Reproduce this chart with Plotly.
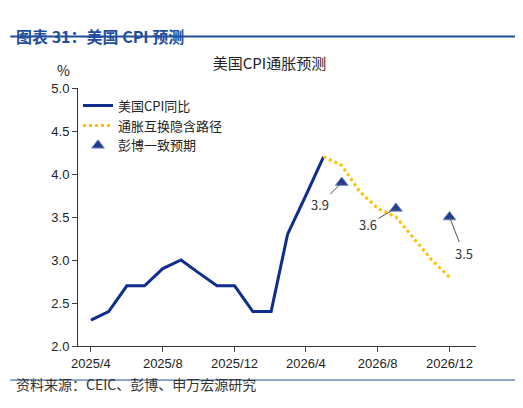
import plotly.graph_objects as go

months = ["2025-04", "2025-05", "2025-06", "2025-07", "2025-08", "2025-09", "2025-10",
          "2025-11", "2025-12", "2026-01", "2026-02", "2026-03", "2026-04", "2026-05"]
cpi = [2.3, 2.4, 2.7, 2.7, 2.9, 3.0, 2.85, 2.7, 2.7, 2.4, 2.4, 3.3, 3.75, 4.2]

path_months = ["2026-05", "2026-06", "2026-07", "2026-08", "2026-09", "2026-10", "2026-11", "2026-12"]
path_vals = [4.2, 4.1, 3.8, 3.6, 3.5, 3.25, 3.0, 2.8]

bbg_months = ["2026-06", "2026-09", "2026-12"]
bbg_vals = [3.9, 3.6, 3.5]
bbg_labels = ["3.9", "3.6", "3.5"]

tick_vals = ["2025-04", "2025-08", "2025-12", "2026-04", "2026-08", "2026-12"]
tick_text = ["2025/4", "2025/8", "2025/12", "2026/4", "2026/8", "2026/12"]

blue = "#0F2D8C"
fig = go.Figure()
fig.add_trace(go.Scatter(x=months, y=cpi, mode="lines", name="美国CPI同比",
                         line=dict(color=blue, width=3)))
fig.add_trace(go.Scatter(x=path_months, y=path_vals, mode="lines", name="通胀互换隐含路径",
                         line=dict(color="#FFC000", width=3, dash="dot")))
fig.add_trace(go.Scatter(x=bbg_months, y=bbg_vals, mode="markers", name="彭博一致预期",
                         marker=dict(symbol="triangle-up", size=11, color="#1F3C8C",
                                     line=dict(color="#6F86C0", width=1))))

offsets = [(-22, 22), (-28, 16), (14, 36)]
for m, v, t, (ax, ay) in zip(bbg_months, bbg_vals, bbg_labels, offsets):
    fig.add_annotation(x=m, y=v, text=t, showarrow=True, arrowhead=0, arrowwidth=1,
                       arrowcolor="#555", ax=ax, ay=ay, font=dict(size=13, color="#333"))

fig.update_layout(
    width=523, height=408, plot_bgcolor="white", paper_bgcolor="white",
    font=dict(family="Noto Sans CJK SC", color="#222", size=13),
    margin=dict(l=70, r=55, t=80, b=70),
    title=dict(text="美国CPI通胀预测", x=0.5, xanchor="center", y=0.877, font=dict(size=15)),
    legend=dict(orientation="h", x=0.0, y=0.99, yanchor="top", traceorder="normal",
                font=dict(size=13), bgcolor="rgba(255,255,255,0)", entrywidth=205),
    showlegend=True,
)
fig.update_xaxes(tickvals=tick_vals, ticktext=tick_text, range=["2025-03-10", "2027-01-15"],
                 showgrid=False, showline=True, linecolor="#333", ticks="outside",
                 tickfont=dict(size=13, family="Liberation Sans"))
fig.update_yaxes(range=[2.0, 5.0], dtick=0.5, tickformat=".1f", showgrid=False,
                 showline=True, linecolor="#333", ticks="outside",
                 tickfont=dict(size=13, family="Liberation Sans"))

fig.add_annotation(xref="paper", yref="paper", x=-0.058, y=1.116, text="%", showarrow=False,
                   font=dict(size=14))
fig.add_annotation(xref="paper", yref="paper", x=-0.16, y=1.256, xanchor="left",
                   text="<b>图表 31：美国 CPI 预测</b>", showarrow=False,
                   font=dict(size=16, color="#1F4E9C"))
fig.add_shape(type="line", xref="paper", yref="paper", x0=-0.17, x1=1.13, y0=1.2, y1=1.2,
              line=dict(color="#1F4E9C", width=2))
fig.add_annotation(xref="paper", yref="paper", x=-0.16, y=-0.194, xanchor="left",
                   text="资料来源：CEIC、彭博、申万宏源研究", showarrow=False,
                   font=dict(size=14, color="#333"))
fig.add_shape(type="line", xref="paper", yref="paper", x0=-0.17, x1=1.13, y0=-0.132, y1=-0.132,
              line=dict(color="#1F4E9C", width=1))

fig.write_html("out.html")
